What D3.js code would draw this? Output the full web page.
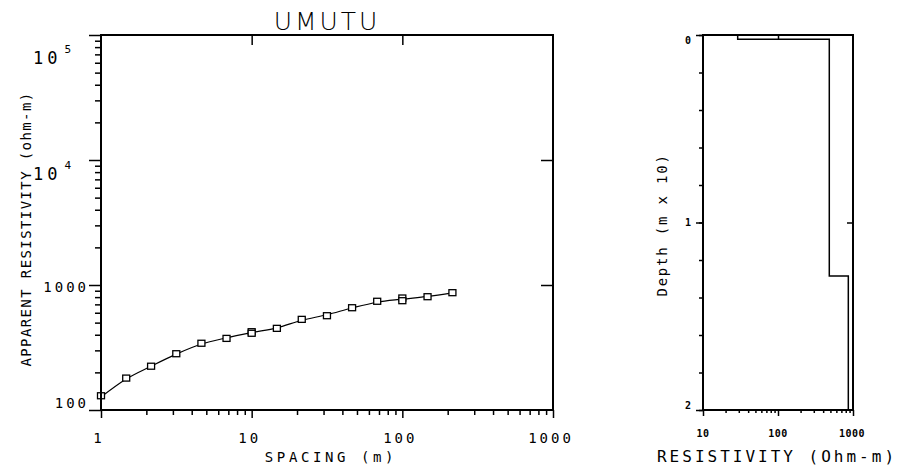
<!DOCTYPE html>
<html>
<head>
<meta charset="utf-8">
<script src="https://cdn.jsdelivr.net/npm/d3@7"></script>
<style>
  body { margin: 0; background: #fff; }
  svg { display: block; }
  text { font-family: "DejaVu Sans Mono", monospace; fill: #000; }
</style>
</head>
<body>
<svg id="sounding"></svg>
<script>
// sounding curve: spacing (m) vs apparent resistivity (ohm-m)
var spacing = [1, 1.47, 2.15, 3.16, 4.64, 6.81, 10, 10, 14.7, 21.5, 31.6, 46.4, 68.1, 100, 100, 147, 215];
var apparentRho = [130, 180, 224, 282, 342, 374, 423, 411, 450, 531, 568, 658, 741, 787, 749, 806, 868];

// fitted model curve
var modelSpacing = [1, 1.47, 2.15, 3.16, 4.64, 6.81, 10, 14.7, 21.5, 31.6, 46.4, 68.1, 100, 147, 215];
var modelRho = [127, 177, 224, 280, 337, 378, 416, 454, 522, 578, 655, 728, 770, 810, 866];

// layered model: resistivity and top depth (m x 10)
var layerRho = [29, 483, 866];
var layerTop = [0, 0.023, 1.285];
var layerBottom = 2;

var xTickLabels = ["1", "10", "100", "1000"];
var depthTickLabels = ["0", "1", "2"];
var resTickLabels = ["10", "100", "1000"];

var svg = d3.select("#sounding").attr("width", 904).attr("height", 468);

var logMinor = function(lo, hi) {
    var out = [];
    for (var p = lo; p < hi; p *= 10)
        for (var k = 2; k <= 9; k++) out.push(p * k);
    return out;
};

var tickAxis = function(g, axisFn, scale, values, size) {
    g.call(axisFn(scale).tickValues(values).tickSize(size).tickFormat(""));
    g.select(".domain").remove();
    g.selectAll("line").attr("stroke", "#000").attr("stroke-width", 1.5);
};

var frame = function(x0, y0, x1, y1) {
    svg.append("rect")
        .attr("x", x0).attr("y", y0)
        .attr("width", x1 - x0).attr("height", y1 - y0)
        .attr("fill", "none").attr("stroke", "#000").attr("stroke-width", 2);
};

// ---------- left plot ----------
var xScale = d3.scaleLog().domain([1, 1000]).range([101, 553]);
var yScale = d3.scaleLog().domain([100, 100000]).range([410, 35]);

var left = svg.append("g");
tickAxis(left.append("g").attr("transform", "translate(101,0)"), d3.axisLeft, yScale, logMinor(100, 100000), 6);
tickAxis(left.append("g").attr("transform", "translate(101,0)"), d3.axisLeft, yScale, [100, 1000, 10000, 100000], 12);
tickAxis(left.append("g").attr("transform", "translate(0,410)"), d3.axisBottom, xScale, logMinor(1, 1000), 5);
tickAxis(left.append("g").attr("transform", "translate(0,410)"), d3.axisBottom, xScale, [1, 10, 100, 1000], 8);
tickAxis(left.append("g").attr("transform", "translate(0,35)"), d3.axisBottom, xScale, [10, 100], 10);
tickAxis(left.append("g").attr("transform", "translate(553,0)"), d3.axisLeft, yScale, [1000, 10000], 12);
frame(101, 35, 553, 410);

// y tick labels
left.append("text").text("100")
    .attr("x", 89).attr("y", yScale(100) - 7).attr("dy", "0.36em")
    .attr("text-anchor", "end").style("font-size", "14px").style("letter-spacing", "3px");
left.append("text").text("1000")
    .attr("x", 89).attr("y", yScale(1000) + 2).attr("dy", "0.36em")
    .attr("text-anchor", "end").style("font-size", "14px").style("letter-spacing", "3px");
[10000, 100000].forEach(function(v) {
    var yy = Math.max(yScale(v) + 14, 58);
    var t = left.append("text")
        .attr("x", 33).attr("y", yy).attr("dy", "0.36em")
        .style("font-size", "17px").style("letter-spacing", "4px");
    t.append("tspan").text("10");
    t.append("tspan").text(String(Math.round(Math.log10(v))))
        .attr("dx", 3).attr("dy", "-1.0em").style("font-size", "11px");
});

// x tick labels
left.selectAll(".xlab").data([1, 10, 100, 1000]).enter().append("text")
    .attr("class", "xlab")
    .text(function(d, i) { return xTickLabels[i]; })
    .attr("x", function(d) { return xScale(d) - 2; })
    .attr("y", 438).attr("dy", "0.36em")
    .attr("text-anchor", "middle").style("font-size", "14px").style("letter-spacing", "3px");

left.append("text").text("SPACING (m)")
    .attr("x", 331).attr("y", 462)
    .attr("text-anchor", "middle").style("font-size", "14px").style("letter-spacing", "3.6px");

left.append("text").text("APPARENT RESISTIVITY (ohm-m)")
    .attr("transform", "translate(31,229) rotate(-90)")
    .attr("text-anchor", "middle").style("font-size", "14px").style("letter-spacing", "1.4px");

svg.append("text").text("UMUTU")
    .attr("x", 327).attr("y", 30)
    .attr("text-anchor", "middle")
    .style("font-family", "'DejaVu Sans', sans-serif").style("font-weight", "200")
    .style("font-size", "25px").style("letter-spacing", "3px");

// model curve
var line = d3.line()
    .x(function(d) { return xScale(d.s); })
    .y(function(d) { return yScale(d.r); })
    .curve(d3.curveMonotoneX);
left.append("path")
    .datum(modelSpacing.map(function(s, i) { return {s: s, r: modelRho[i]}; }))
    .attr("d", line)
    .attr("fill", "none").attr("stroke", "#000").attr("stroke-width", 1.2);

// observed points
left.selectAll(".pt").data(spacing).enter().append("rect")
    .attr("class", "pt")
    .attr("x", function(d) { return xScale(d) - 3.5; })
    .attr("y", function(d, i) { return yScale(apparentRho[i]) - 3; })
    .attr("width", 7).attr("height", 6)
    .attr("fill", "#fff").attr("stroke", "#000").attr("stroke-width", 1.3);

// ---------- right plot ----------
var rScale = d3.scaleLog().domain([10, 1000]).range([703, 853]);
var dScale = d3.scaleLinear().domain([0, 2]).range([35, 410]);

var right = svg.append("g");
tickAxis(right.append("g").attr("transform", "translate(703,0)"), d3.axisLeft, dScale, d3.range(0, 2.01, 0.2), 4);
tickAxis(right.append("g").attr("transform", "translate(703,0)"), d3.axisLeft, dScale, [0, 1, 2], 7);
tickAxis(right.append("g").attr("transform", "translate(0,410)"), d3.axisBottom, rScale, logMinor(10, 1000), 3);
tickAxis(right.append("g").attr("transform", "translate(0,410)"), d3.axisBottom, rScale, [10, 100, 1000], 6);
tickAxis(right.append("g").attr("transform", "translate(0,35)"), d3.axisBottom, rScale, [100], 5);
tickAxis(right.append("g").attr("transform", "translate(853,0)"), d3.axisLeft, dScale, [1], 6);
frame(703, 35, 853, 410);

right.selectAll(".dlab").data([0, 1, 2]).enter().append("text")
    .attr("class", "dlab")
    .text(function(d, i) { return depthTickLabels[i]; })
    .attr("x", 688)
    .attr("y", function(d) { return Math.min(Math.max(dScale(d), 40), 405); })
    .attr("dy", "0.36em").attr("text-anchor", "middle")
    .style("font-size", "10px").style("font-weight", "bold");

right.selectAll(".rlab").data([10, 100, 1000]).enter().append("text")
    .attr("class", "rlab")
    .text(function(d, i) { return resTickLabels[i]; })
    .attr("x", function(d) { return rScale(d) - (d === 1000 ? 1 : 0); })
    .attr("y", 433).attr("dy", "0.36em").attr("text-anchor", "middle")
    .style("font-size", "10px").style("font-weight", "bold").style("letter-spacing", "0.5px");

right.append("text").text("RESISTIVITY (Ohm-m)")
    .attr("x", 777).attr("y", 462)
    .attr("text-anchor", "middle").style("font-size", "16px").style("letter-spacing", "3px");

right.append("text").text("Depth (m x 10)")
    .attr("transform", "translate(667,225) rotate(-90)")
    .attr("text-anchor", "middle").style("font-size", "14px").style("letter-spacing", "1.8px");

// layer step line
var steps = [];
layerRho.forEach(function(r, i) {
    var bottom = i < layerRho.length - 1 ? layerTop[i + 1] : layerBottom;
    steps.push([r, layerTop[i]]);
    steps.push([r, bottom]);
});
right.append("path")
    .datum(steps)
    .attr("d", d3.line()
        .x(function(d) { return rScale(d[0]); })
        .y(function(d) { return dScale(d[1]); }))
    .attr("fill", "none").attr("stroke", "#000").attr("stroke-width", 1.5);
</script>
</body>
</html>
